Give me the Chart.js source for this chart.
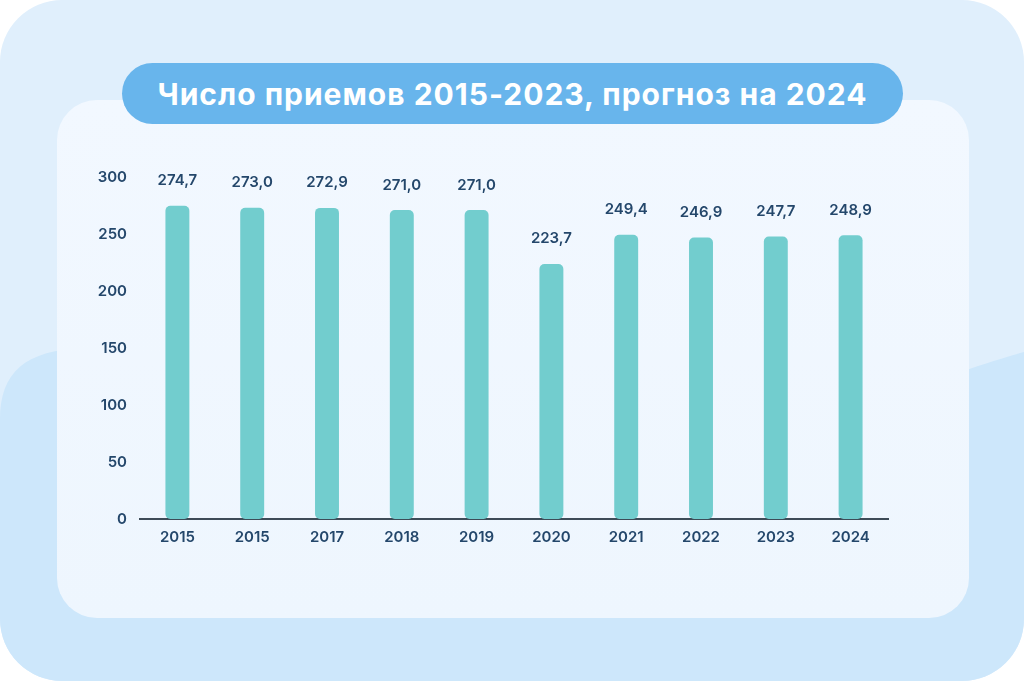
<!DOCTYPE html>
<html lang="ru">
<head>
<meta charset="utf-8">
<script src="https://cdn.jsdelivr.net/npm/chart.js@4"></script>
<style>
  html, body { margin: 0; padding: 0; background: #ffffff; }
  #wrap { position: relative; width: 1024px; height: 681px; overflow: hidden; }
  #outer { position: absolute; left: 0; top: 0; width: 1024px; height: 681px; border-radius: 62px; overflow: hidden; background: #e0effc; }
  #outer svg { position: absolute; left: 0; top: 0; }
  #card { position: absolute; left: 57px; top: 100px; width: 912px; height: 518px; border-radius: 40px;
          background: linear-gradient(180deg, #f2f8ff 0%, #eef6fe 100%); }
  #pill { position: absolute; left: 122px; top: 63px; width: 781px; height: 61px; border-radius: 31px; background: #68b5ec;
          color: #ffffff; font-family: Inter, "Noto Sans", sans-serif; font-weight: 700; font-size: 30px;
          display: flex; align-items: center; justify-content: center; letter-spacing: 1px; }
  #chartBox { position: absolute; left: 0; top: 0; width: 1024px; height: 681px; }
</style>
</head>
<body>
<div id="wrap">
  <div id="outer">
    <svg width="1024" height="681" viewBox="0 0 1024 681">
      <path d="M0,420 C0,372 25,350 85,348 L960,372 C990,362 1010,356 1024,352 L1024,681 L0,681 Z" fill="#cde7fb"/>
    </svg>
  </div>
  <div id="card"></div>
  <div id="pill">Число приемов 2015-2023, прогноз на 2024</div>
  <div id="chartBox"><canvas id="c"></canvas></div>
</div>
<script>
const categories = ["2015", "2015", "2017", "2018", "2019", "2020", "2021", "2022", "2023", "2024"];
const values = [274.7, 273.0, 272.9, 271.0, 271.0, 223.7, 249.4, 246.9, 247.7, 248.9];
const yTicks = [0, 50, 100, 150, 200, 250, 300];

const textColor = "#24476b";
const fontFamily = "Inter, 'Noto Sans', sans-serif";

const valueLabels = {
  id: "valueLabels",
  afterDatasetsDraw(chart) {
    const ctx = chart.ctx;
    const meta = chart.getDatasetMeta(0);
    ctx.save();
    ctx.fillStyle = textColor;
    ctx.font = "600 15px " + fontFamily;
    ctx.textAlign = "center";
    ctx.textBaseline = "middle";
    meta.data.forEach((bar, i) => {
      const txt = values[i].toFixed(1).replace(".", ",");
      ctx.fillText(txt, bar.x, bar.y - 25);
    });
    ctx.restore();
  }
};

new Chart(document.getElementById("c"), {
  type: "bar",
  data: {
    labels: categories,
    datasets: [{
      data: values,
      backgroundColor: "#72cdce",
      borderRadius: 5,
      borderSkipped: false,
      barPercentage: 0.32,
      categoryPercentage: 1.0
    }]
  },
  options: {
    responsive: true,
    maintainAspectRatio: false,
    animation: false,
    layout: { padding: { left: 0, right: 136, top: 177, bottom: 122 } },
    plugins: { legend: { display: false }, tooltip: { enabled: false }, title: { display: false } },
    scales: {
      x: {
        grid: { display: false, drawTicks: false },
        border: { display: true, color: "#3d4b57", width: 2 },
        ticks: { color: textColor, font: { family: fontFamily, size: 15, weight: "600" }, padding: 9 },
        afterFit(scale) { scale.height = 40; }
      },
      y: {
        min: 0, max: 300,
        afterBuildTicks(scale) { scale.ticks = yTicks.map(v => ({ value: v })); },
        grid: { display: false, drawTicks: false },
        border: { display: false },
        ticks: { color: textColor, font: { family: fontFamily, size: 15, weight: "600" }, padding: 13 },
        afterFit(scale) { scale.width = 140; }
      }
    }
  },
  plugins: [valueLabels]
});
</script>
</body>
</html>
